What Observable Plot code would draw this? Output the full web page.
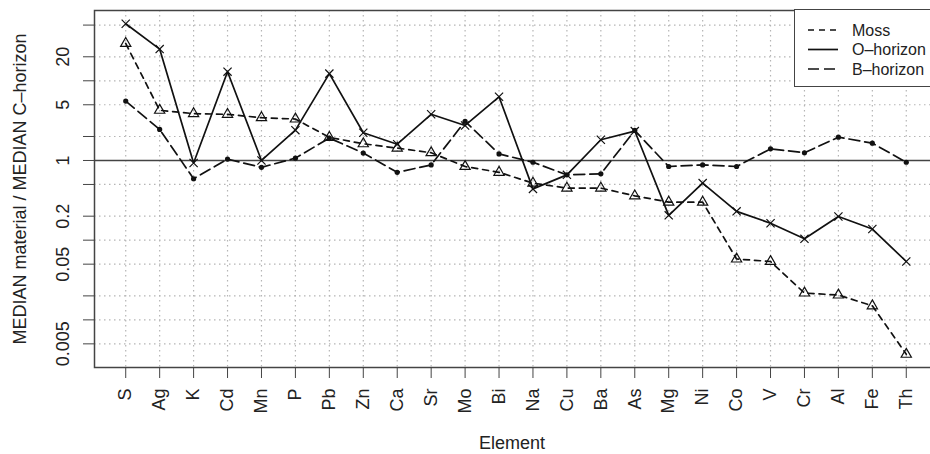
<!DOCTYPE html>
<html>
<head>
<meta charset="utf-8">
<script src="https://cdn.jsdelivr.net/npm/d3@7"></script>
<script src="https://cdn.jsdelivr.net/npm/@observablehq/plot@0.6"></script>
<style>
  html, body { margin: 0; padding: 0; background: white; overflow: hidden; }
  #wrap { position: relative; width: 930px; height: 454px; overflow: hidden; }
  #legend { position: absolute; left: 794px; top: 9px; width: 150px; height: 78px;
            background: white; border: 1.5px solid #444; box-sizing: border-box; }
  svg { font-family: "Liberation Sans", Arial, sans-serif; }
</style>
</head>
<body>
<div id="wrap"></div>
<script>
// Elements, ordered as on the x axis
const elements = ["S","Ag","K","Cd","Mn","P","Pb","Zn","Ca","Sr","Mo","Bi","Na","Cu","Ba","As","Mg","Ni","Co","V","Cr","Al","Fe","Th"];

// Ratio MEDIAN material / MEDIAN C-horizon for each sample material
const moss     = [29.4, 4.26, 3.87, 3.79, 3.44, 3.31, 1.95, 1.62, 1.43, 1.25, 0.84, 0.71, 0.52, 0.45, 0.45, 0.36, 0.30, 0.30, 0.058, 0.054, 0.0217, 0.0205, 0.015, 0.0037];
const oHorizon = [52, 25, 0.93, 13, 1.0, 2.4, 12.3, 2.23, 1.6, 3.8, 2.75, 6.3, 0.44, 0.66, 1.82, 2.34, 0.205, 0.52, 0.23, 0.163, 0.104, 0.198, 0.138, 0.054];
const bHorizon = [5.57, 2.45, 0.59, 1.04, 0.82, 1.07, 1.91, 1.24, 0.71, 0.88, 3.1, 1.21, 0.95, 0.66, 0.68, 2.38, 0.84, 0.88, 0.84, 1.40, 1.25, 1.96, 1.65, 0.95];

const seriesNames = ["Moss", "O–horizon", "B–horizon"];

// y axis ticks (log scale) and the subset that carries a label
const yTicks      = [50, 20, 10, 5, 2, 1, 0.5, 0.2, 0.1, 0.05, 0.02, 0.01, 0.005];
const yTickLabels = [20, 5, 1, 0.2, 0.05, 0.005];

// line styles for each series
const styles = {
  "Moss":      {dash: "6,5",  symbol: "triangle", fill: "none"},
  "O–horizon": {dash: null,   symbol: "times",    fill: "none"},
  "B–horizon": {dash: "11,5", symbol: "circle",   fill: "#111"}
};

const seriesValues = [moss, oHorizon, bHorizon];
const rows = seriesNames.flatMap((s, i) =>
  elements.map((e, j) => ({series: s, element: e, value: seriesValues[i][j]})));

// log domain extended by 4% on each side
const logExt = d3.extent(rows, d => Math.log10(d.value));
const pad = (logExt[1] - logExt[0]) * 0.04;
const yDomain = [Math.pow(10, logExt[0] - pad), Math.pow(10, logExt[1] + pad)];

const ink = "#111";
const seriesMarks = seriesNames.flatMap(s => {
  const data = rows.filter(d => d.series === s);
  const st = styles[s];
  return [
    Plot.line(data, {x: "element", y: "value", stroke: ink, strokeWidth: 1.7,
                     strokeDasharray: st.dash || undefined}),
    Plot.dot(data, {x: "element", y: "value", symbol: () => st.symbol,
                    r: st.symbol === "circle" ? 2.6 : 3.8,
                    stroke: st.symbol === "circle" ? "none" : ink,
                    strokeWidth: 1.2, fill: st.fill})
  ];
});

const chart = Plot.plot({
  width: 930,
  height: 454,
  marginTop: 10,
  marginBottom: 87,
  marginLeft: 94,
  marginRight: -7,
  style: {fontFamily: "Liberation Sans, Arial, sans-serif", fontSize: "18px", background: "white", color: "#222", maxWidth: "none"},
  symbol: {type: "identity"},
  x: {type: "point", domain: elements, padding: 0.92, round: false, label: null},
  y: {type: "log", domain: yDomain, label: null},
  marks: [
    Plot.gridX({stroke: "#b5b5b5", strokeOpacity: 1, strokeWidth: 1.2, strokeDasharray: "1.5,3.5"}),
    Plot.gridY(yTicks, {stroke: "#b5b5b5", strokeOpacity: 1, strokeWidth: 1.2, strokeDasharray: "1.5,3.5"}),
    Plot.ruleY([1], {stroke: "#444", strokeWidth: 1.6}),
    ...seriesMarks,
    Plot.frame({stroke: "#444", strokeWidth: 1.5}),
    Plot.axisX({tickSize: 11, tickPadding: 10, tickRotate: -90, label: null, stroke: "#444", fill: "#222"}),
    Plot.axisY(yTicks, {tickSize: 11, tickFormat: () => "", label: null, stroke: "#444"}),
    Plot.text(yTickLabels, {y: d => d, text: d => String(d), frameAnchor: "left", dx: -31,
                            rotate: -90, textAnchor: "middle", lineAnchor: "middle", fill: "#222"}),
    Plot.text(["MEDIAN material / MEDIAN C–horizon"], {text: d => d, frameAnchor: "left", dx: -74,
                            rotate: -90, textAnchor: "middle", lineAnchor: "middle", fill: "#222"}),
    Plot.text(["Element"], {text: d => d, frameAnchor: "bottom", dx: -4, dy: 76,
                            textAnchor: "middle", lineAnchor: "middle", fill: "#222"})
  ]
});

const wrap = document.getElementById("wrap");
wrap.appendChild(chart);

// legend box in the top-right corner of the panel
const legend = d3.select(wrap).append("div").attr("id", "legend");
const lsvg = legend.append("svg").attr("width", 150).attr("height", 76)
  .style("position", "absolute").style("left", "-1.5px").style("top", "-1.5px");
seriesNames.forEach((s, i) => {
  const yy = 21 + i * 19.5;
  lsvg.append("line").attr("x1", 14).attr("x2", 44).attr("y1", yy).attr("y2", yy)
    .attr("stroke", ink).attr("stroke-width", 1.7)
    .attr("stroke-dasharray", styles[s].dash || null);
  lsvg.append("text").attr("x", 58).attr("y", yy).attr("dy", "0.35em")
    .attr("font-size", 16).attr("fill", "#222").text(s);
});
</script>
</body>
</html>
